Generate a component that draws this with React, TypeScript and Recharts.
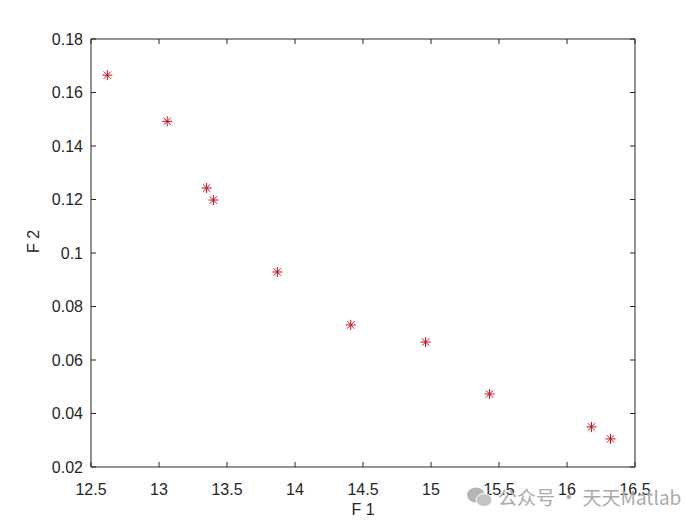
import { ScatterChart, Scatter, XAxis, YAxis, ReferenceLine } from 'recharts';

const f1 = [12.62, 13.06, 13.35, 13.4, 13.87, 14.41, 14.96, 15.43, 16.18, 16.32];
const f2 = [0.1665, 0.1492, 0.1243, 0.1198, 0.0929, 0.0731, 0.0667, 0.0473, 0.035, 0.0305];
const xTicks = [12.5, 13, 13.5, 14, 14.5, 15, 15.5, 16, 16.5];
const yTicks = [0.02, 0.04, 0.06, 0.08, 0.1, 0.12, 0.14, 0.16, 0.18];

const points = f1.map((x, i) => ({ x, y: f2[i] }));

// plot box in page pixels
const TOP = 39;
const BOTTOM = 467;
const LEFT = 91;
const RIGHT = 635;
const TICK = 5;
const AXIS = '#262626';
const MARK = '#c0121c';
const FONT = 'Arial, "Liberation Sans", sans-serif';

const XTick = (props: any) => {
  const { x, payload } = props;
  return (
    <g>
      <line x1={x} x2={x} y1={BOTTOM} y2={BOTTOM - TICK} stroke={AXIS} />
      <line x1={x} x2={x} y1={TOP} y2={TOP + TICK} stroke={AXIS} />
      <text x={x} y={BOTTOM + 28} textAnchor="middle" fontSize={16} fill={AXIS} fontFamily={FONT}>
        {payload.value}
      </text>
    </g>
  );
};

const YTick = (props: any) => {
  const { y, payload } = props;
  return (
    <g>
      <line x1={LEFT} x2={LEFT + TICK} y1={y} y2={y} stroke={AXIS} />
      <line x1={RIGHT} x2={RIGHT - TICK} y1={y} y2={y} stroke={AXIS} />
      <text x={LEFT - 8} y={y + 5.5} textAnchor="end" fontSize={16} fill={AXIS} fontFamily={FONT}>
        {payload.value}
      </text>
    </g>
  );
};

const Star = (props: any) => {
  const { cx, cy } = props;
  const r = 5;
  const d = 3.7;
  return (
    <g stroke={MARK} strokeWidth={1}>
      <line x1={cx - r} x2={cx + r} y1={cy} y2={cy} />
      <line x1={cx} x2={cx} y1={cy - r} y2={cy + r} />
      <line x1={cx - d} x2={cx + d} y1={cy - d} y2={cy + d} />
      <line x1={cx - d} x2={cx + d} y1={cy + d} y2={cy - d} />
    </g>
  );
};

export default function App() {
  return (
    <div style={{ position: 'absolute', left: 0, top: 0, width: 700, height: 525, background: '#fff' }}>
      <ScatterChart
        width={700}
        height={525}
        margin={{ top: TOP, right: 700 - RIGHT, bottom: 0, left: 0 }}
      >
        <XAxis
          type="number"
          dataKey="x"
          domain={[12.5, 16.5]}
          ticks={xTicks}
          height={525 - BOTTOM}
          tick={<XTick />}
          tickLine={false}
          axisLine={{ stroke: AXIS }}
          interval={0}
          label={{ value: 'F 1', position: 'insideBottom', offset: 10, fill: AXIS, fontSize: 16, fontFamily: FONT }}
        />
        <YAxis
          type="number"
          dataKey="y"
          domain={[0.02, 0.18]}
          ticks={yTicks}
          width={LEFT}
          tick={<YTick />}
          tickLine={false}
          axisLine={{ stroke: AXIS }}
          interval={0}
          label={{ value: 'F 2', angle: -90, position: 'insideLeft', offset: 33, fill: AXIS, fontSize: 16, fontFamily: FONT }}
        />
        <ReferenceLine x={16.5} stroke={AXIS} />
        <ReferenceLine y={0.18} stroke={AXIS} />
        <Scatter data={points} shape={<Star />} isAnimationActive={false} />
      </ScatterChart>
      <div
        style={{
          position: 'absolute',
          left: 466,
          top: 483,
          display: 'flex',
          alignItems: 'center',
          color: '#ababab',
          fontFamily: '"Noto Sans CJK SC", "Noto Sans", sans-serif',
          fontSize: 19,
          whiteSpace: 'nowrap',
        }}
      >
        <svg width={28} height={22} style={{ marginRight: 4 }}>
          <ellipse cx={10} cy={9} rx={9} ry={7.5} fill="#b5b5b5" />
          <ellipse cx={18} cy={14} rx={8} ry={6.5} fill="#c4c4c4" stroke="#fff" strokeWidth={1} />
        </svg>
        <span>公众号 · 天天Matlab</span>
      </div>
    </div>
  );
}
